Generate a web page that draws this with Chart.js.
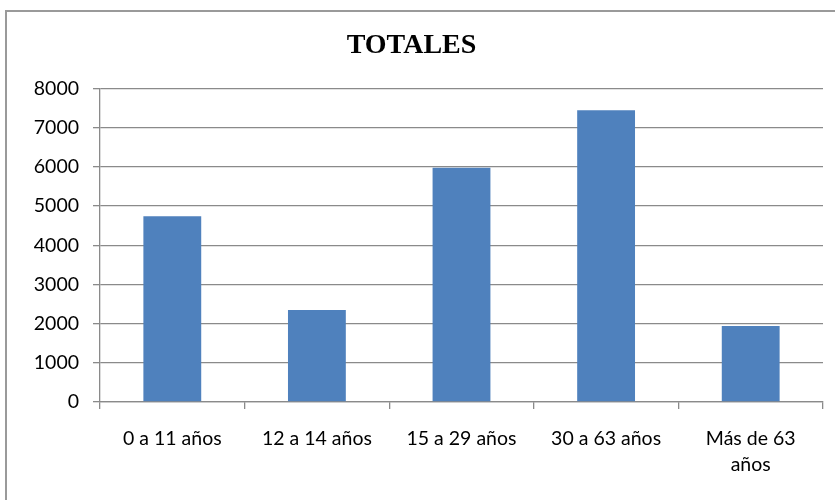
<!DOCTYPE html>
<html>
<head>
<meta charset="utf-8">
<script src="https://cdn.jsdelivr.net/npm/chart.js@4"></script>
<style>
  html, body { margin: 0; padding: 0; background: #fff; overflow: hidden; }
  #wrap { position: relative; width: 835px; height: 500px; }
  #frame { position: absolute; left: 5px; top: 10px; width: 840px; height: 500px;
           border: 2px solid #9a9a9a; box-sizing: border-box; pointer-events: none; }
  canvas { position: absolute; left: 0; top: 0; }
</style>
</head>
<body>
<div id="wrap">
  <canvas id="chart" width="835" height="500"></canvas>
  <div id="frame"></div>
</div>
<script>
// age groups and totals
const ageGroups = ['0 a 11 años', '12 a 14 años', '15 a 29 años', '30 a 63 años', ['Más de 63', 'años']];
const totals = [4740, 2350, 5980, 7450, 1940];
const yTicks = [0, 1000, 2000, 3000, 4000, 5000, 6000, 7000, 8000];

const gridColor = '#8a8a8a';

new Chart(document.querySelector('#chart').getContext('2d'), {
    type: 'bar',
    data: {
        labels: ageGroups,
        datasets: [{
            label: 'TOTALES',
            data: totals,
            backgroundColor: '#4f81bd',
            borderWidth: 0,
            categoryPercentage: 1,
            barPercentage: 0.4
        }]
    },
    options: {
        responsive: false,
        animation: false,
        layout: { padding: { left: 0, right: 12, top: 0, bottom: 0 } },
        plugins: {
            legend: { display: false },
            tooltip: { enabled: false },
            title: {
                display: true,
                text: 'TOTALES',
                color: '#000',
                font: { family: 'Liberation Serif', size: 28, weight: 'bold', lineHeight: 1.2 },
                padding: { top: 29, bottom: 26 }
            }
        },
        scales: {
            x: {
                grid: { drawOnChartArea: false, drawTicks: true, tickLength: 7, color: gridColor, lineWidth: 1.3 },
                border: { display: true, color: gridColor, width: 1.3 },
                ticks: {
                    color: '#000',
                    font: { family: 'Lato', size: 19.5, lineHeight: 1.33 },
                    padding: 17,
                    maxRotation: 0,
                    autoSkip: false
                },
                afterFit: scale => { scale.height = 98; }
            },
            y: {
                min: 0,
                max: 8000,
                afterBuildTicks: scale => { scale.ticks = yTicks.map(v => ({ value: v })); },
                grid: { color: gridColor, lineWidth: 1.3, tickLength: 7 },
                border: { display: true, color: gridColor, width: 1.3 },
                ticks: {
                    color: '#000',
                    font: { family: 'Lato', size: 19.5 },
                    padding: 14,
                    callback: value => String(value)
                },
                afterFit: scale => { scale.width = 100; }
            }
        }
    }
});
</script>
</body>
</html>
